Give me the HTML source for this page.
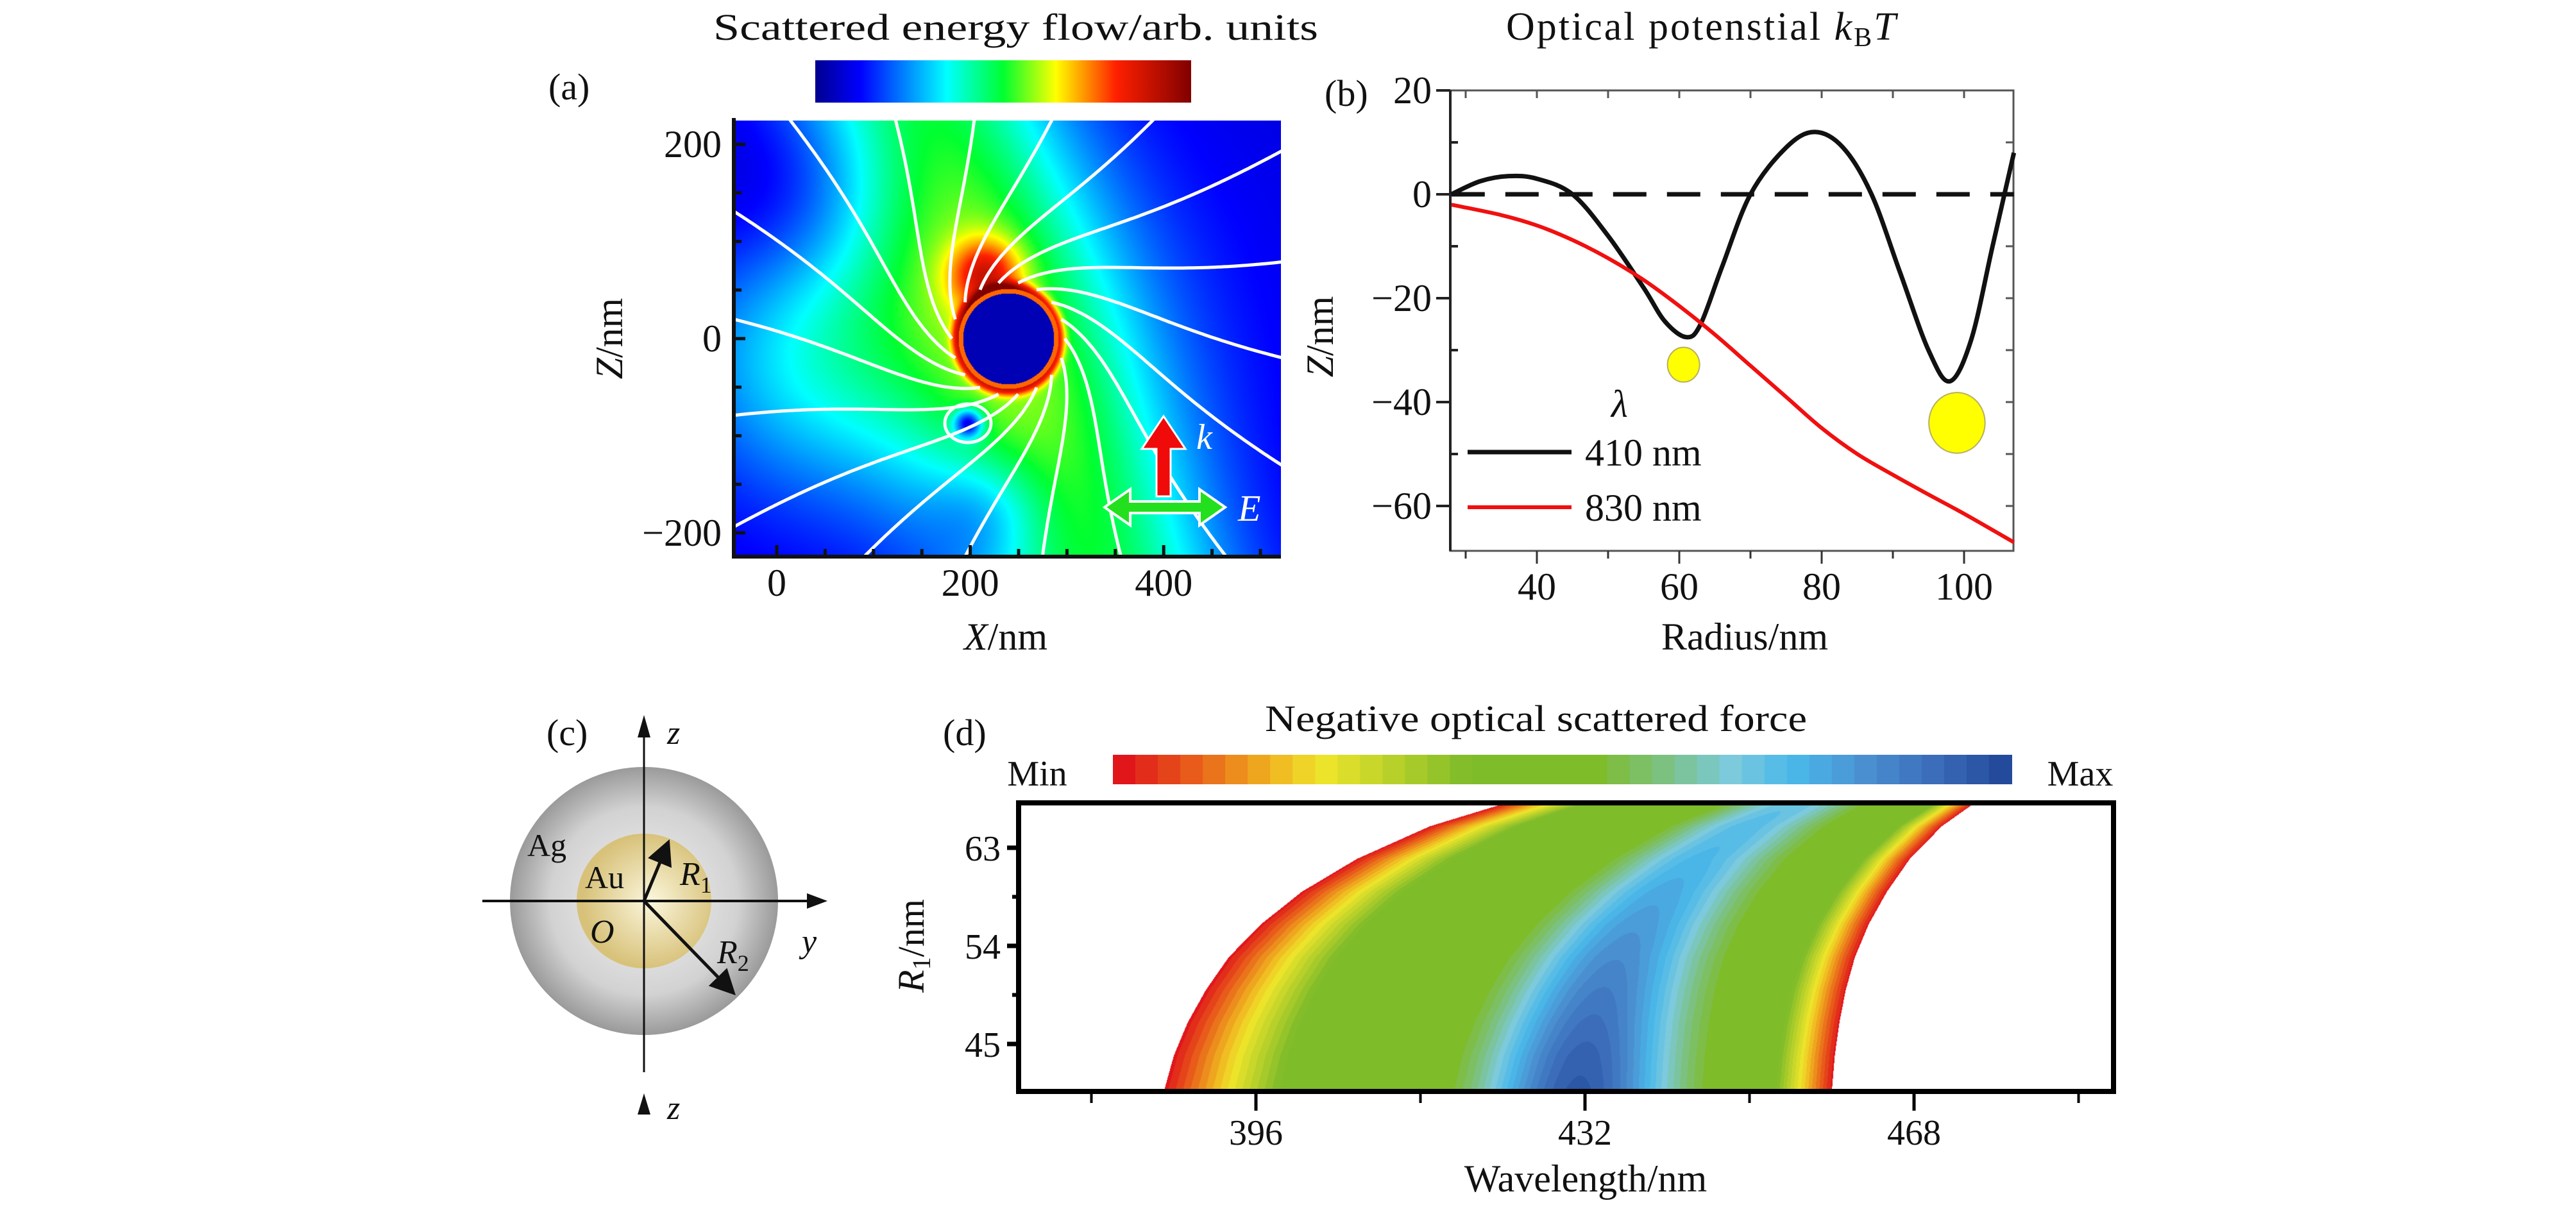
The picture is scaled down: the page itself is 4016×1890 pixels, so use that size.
<!DOCTYPE html>
<html><head><meta charset="utf-8"><title>Optical force figure</title>
<style>
html,body{margin:0;padding:0;background:#fff;}
#wrap{position:relative;width:4016px;height:1890px;overflow:hidden;background:#fff;}
canvas{position:absolute;}
svg{position:absolute;left:0;top:0;}
text{font-family:"Liberation Serif",serif;fill:#111;}
</style></head><body>
<div id="wrap">
<canvas id="fieldA" style="left:1144px;top:188px" width="853" height="680"></canvas>
<canvas id="heatD" style="left:1588px;top:1252px" width="1707" height="450"></canvas>
<svg id="svg" width="4016" height="1890" viewBox="0 0 4016 1890">
<defs>
<linearGradient id="jet" x1="0" x2="1" y1="0" y2="0">
<stop offset="0" stop-color="#00008f"/><stop offset="0.12" stop-color="#0000ff"/><stop offset="0.35" stop-color="#00ffff"/>
<stop offset="0.5" stop-color="#00ff30"/><stop offset="0.64" stop-color="#ffff00"/><stop offset="0.8" stop-color="#ff2000"/><stop offset="1" stop-color="#800000"/>
</linearGradient>
<radialGradient id="shellR" cx="0.5" cy="0.5" r="0.5"><stop offset="0" stop-color="#f4f4f4"/><stop offset="0.7" stop-color="#d2d2d2"/><stop offset="1" stop-color="#9a9a9a"/></radialGradient>
<radialGradient id="coreR" cx="0.55" cy="0.5" r="0.5"><stop offset="0" stop-color="#fbf6dc"/><stop offset="1" stop-color="#d8c27a"/></radialGradient>
<marker id="ah" markerWidth="8" markerHeight="8" refX="6" refY="4" orient="auto" markerUnits="strokeWidth"><path d="M0,0 L8,4 L0,8 z" fill="#111"/></marker>
</defs>
<g id="gA"></g>
<g id="gB"></g>
<g id="gC"></g>
<g id="gD"></g>
</svg>
</div>
<script>
// ---------- data ----------
const radiusB = [28,32,36,40,45,50,55,58,61,63,66,70,75,79,83,87,91,95,98,101,104,107];
const black410 = [0,2.5,3.5,3,0,-8,-18,-24.5,-27.5,-25,-14,0,9,12,9,0,-15,-30,-36,-28,-10,8];
const radiusRed = [28,35,40,45,50,55,60,65,70,75,80,85,90,95,100,107];
const red830 = [-2,-4,-6,-8.8,-12.3,-16.5,-21.5,-27,-33,-39,-45,-50,-54,-57.8,-61.5,-67];
const yTicksB = [20,0,-20,-40,-60];
const xTicksB = [40,60,80,100];
const particlesR = [60.6,99];
const particlesZ = [-32.8,-44];
const particleSize = [1,1.75];
const xTicksA = [0,200,400];
const zTicksA = [200,0,-200];
const rValsD = [41,44,47,50,53,56,59,62,65,67.2];
const leftEdgeD = [386,387,388.5,390.5,393,396.5,401,407,415,423.6];
const rightEdgeD = [459,459.3,459.8,460.5,461.5,463,465,467.5,471,474.7];
const peakAmpD = [0.52,0.5,0.47,0.44,0.41,0.38,0.35,0.32,0.3,0.28];
const xTicksD = [396,432,468];
const xMinorD = [378,414,450,486];
const yTicksD = [63,54,45];

const NS='http://www.w3.org/2000/svg';
function sq(a){return a*a;}
function el(tag,attrs,parent,txt){const e=document.createElementNS(NS,tag);for(const k in attrs)e.setAttribute(k,attrs[k]);if(txt!==undefined)e.textContent=txt;parent.appendChild(e);return e;}
const gA=document.getElementById('gA'),gB=document.getElementById('gB'),gC=document.getElementById('gC'),gD=document.getElementById('gD');

// ---------- Panel A ----------
const axA={x0:1144,x1:1997,y0:188,y1:868};
const sxA=v=>1211+1.508*v, szA=v=>528-1.515*v;
const PCX=1572,PCY=528;
(function(){
 const c=document.getElementById('fieldA'),ctx=c.getContext('2d');
 const W=c.width,H=c.height,img=ctx.createImageData(W,H);
 function jet(v){v=Math.max(0,Math.min(1,v));const st=[[0,0,0,143],[0.12,0,0,255],[0.35,0,255,255],[0.5,0,255,48],[0.64,255,255,0],[0.8,255,32,0],[1,128,0,0]];
  for(let i=1;i<st.length;i++){if(v<=st[i][0]){const a=st[i-1],b=st[i],t=(v-a[0])/(b[0]-a[0]);return [a[1]+(b[1]-a[1])*t,a[2]+(b[2]-a[2])*t,a[3]+(b[3]-a[3])*t];}}return [128,0,0];}
 const cx=PCX-axA.x0,cy=PCY-axA.y0,dn=Math.hypot(250,680),ddx=250/dn,ddy=680/dn;
 for(let y=0;y<H;y++)for(let x=0;x<W;x++){
  const dx=x-cx,dy=y-cy,r=Math.hypot(dx,dy),rr=r/78;
  let v;
  if(rr<0.91)v=0.04;else if(rr<1.0)v=0.75;
  else{
   const p=Math.abs(dx*ddy-dy*ddx);
   v=0.08+0.38*Math.exp(-sq(p/200))+0.1*Math.exp(-sq(r/380));
   v+=0.3*Math.exp(-(sq(dx+36)+sq(dy+100))/(55*55));
   v+=0.3*Math.exp(-sq((rr-1.0)/0.15));
   v+=0.22*Math.exp(-(sq(dx+300)+sq(dy-20))/(220*220));
   v-=0.1*Math.exp(-(sq(dx+330)+sq(dy+220))/(170*170));
   v-=0.4*Math.exp(-(sq(dx+63)+sq(dy-132))/(22*22));
   v-=0.12*Math.exp(-(sq(dx+30)+sq(dy-270))/(90*90));
  }
  const col=jet(v),i=(y*W+x)*4;img.data[i]=col[0];img.data[i+1]=col[1];img.data[i+2]=col[2];img.data[i+3]=255;}
 ctx.putImageData(img,0,0);
})();
(function(){
 const cp=el('clipPath',{id:'clipA'},gA);el('rect',{x:axA.x0,y:axA.y0,width:axA.x1-axA.x0,height:axA.y1-axA.y0},cp);
 const gs=el('g',{'clip-path':'url(#clipA)'},gA);
 for(let k=0;k<18;k++){
  const a=k/18*2*Math.PI;let x=PCX+88*Math.cos(a),y=PCY+88*Math.sin(a);
  let d='M'+x.toFixed(1)+','+y.toFixed(1);
  for(let s=0;s<300;s++){
   const dx=x-PCX,dy=y-PCY,r=Math.hypot(dx,dy);
   const sw=2.2*Math.exp(-r/170);
   const ux=dx/r+sw*(-dy/r),uy=dy/r+sw*(dx/r);
   const n=Math.hypot(ux,uy);x+=5*ux/n;y+=5*uy/n;d+=' L'+x.toFixed(1)+','+y.toFixed(1);
   if(x<axA.x0-20||x>axA.x1+20||y<axA.y0-20||y>axA.y1+20)break;}
  const p=el('path',{d:d,fill:'none',stroke:'#fff','stroke-width':5},gs);
  
  
 }
 const lp=el('ellipse',{cx:PCX-63,cy:PCY+132,rx:36,ry:30,fill:'none',stroke:'#fff','stroke-width':5},gs);
 
 
})();
el('line',{x1:axA.x0,y1:axA.y0-4,x2:axA.x0,y2:axA.y1+3,stroke:'#111','stroke-width':6},gA);
el('line',{x1:axA.x0-3,y1:axA.y1,x2:axA.x1,y2:axA.y1,stroke:'#111','stroke-width':6},gA);
for(let v=-50;v<=500;v+=50){const x=sxA(v);if(x<axA.x0||x>axA.x1)continue;el('line',{x1:x,y1:axA.y1,x2:x,y2:axA.y1-(v%200===0?18:12),stroke:'#111','stroke-width':5},gA);}
for(let v=-200;v<=200;v+=50){el('line',{x1:axA.x0,y1:szA(v),x2:axA.x0+(v%200===0?18:12),y2:szA(v),stroke:'#111','stroke-width':5},gA);}
xTicksA.forEach(v=>{const t=el('text',{x:sxA(v),y:929,'font-size':60,'text-anchor':'middle'},gA,String(v));});
zTicksA.forEach(v=>{const t=el('text',{x:1125,y:szA(v)+20,'font-size':60,'text-anchor':'end'},gA,v<0?'\u2212'+(-v):String(v));});
el('text',{x:1568,y:1013,'font-size':60,'text-anchor':'middle'},gA).innerHTML='<tspan font-style="italic">X</tspan>/nm';
el('text',{x:0,y:0,'font-size':60,'text-anchor':'middle',transform:'translate(970,528) rotate(-90)'},gA).innerHTML='<tspan font-style="italic">Z</tspan>/nm';
el('text',{x:855,y:155,'font-size':58},gA,'(a)');
el('text',{x:1112,y:62,'font-size':58,textLength:943,lengthAdjust:'spacingAndGlyphs'},gA,'Scattered energy flow/arb. units');
el('rect',{x:1271,y:94,width:586,height:66,fill:'url(#jet)'},gA);
el('path',{d:'M1803,774 L1803,700 L1780,700 L1814,649 L1848,700 L1825,700 L1825,774 Z',fill:'#f00a0a',stroke:'#fff','stroke-width':3},gA);
el('path',{d:'M1722,791 L1762,763 L1762,782 L1870,782 L1870,763 L1910,791 L1870,819 L1870,800 L1762,800 L1762,819 Z',fill:'#22e01e',stroke:'#fff','stroke-width':4},gA);
el('text',{x:1865,y:700,'font-size':56,'font-style':'italic',style:'fill:#fff'},gA,'k');
el('text',{x:1930,y:812,'font-size':58,'font-style':'italic',style:'fill:#fff'},gA,'E');

// ---------- Panel B ----------
const axB={x0:2261,x1:3139,y0:141,y1:859};
const sxB=v=>2396+(v-40)*11.1, syB=v=>303-v*8.1;
el('rect',{x:axB.x0,y:axB.y0,width:axB.x1-axB.x0,height:axB.y1-axB.y0,fill:'none',stroke:'#555','stroke-width':3},gB);
el('line',{x1:axB.x0,y1:axB.y0,x2:axB.x0,y2:axB.y1,stroke:'#222','stroke-width':4},gB);
for(let v=20;v>=-60;v-=10){const y=syB(v),maj=v%20===0;
 el('line',{x1:axB.x0-(maj?22:0),y1:y,x2:axB.x0+(maj?0:12),y2:y,stroke:'#222','stroke-width':4},gB);
 el('line',{x1:axB.x1,y1:y,x2:axB.x1-12,y2:y,stroke:'#555','stroke-width':3},gB);}
for(let v=30;v<=100;v+=10){const x=sxB(v),maj=v%20===0;
 el('line',{x1:x,y1:axB.y1,x2:x,y2:axB.y1+(maj?20:12),stroke:'#333','stroke-width':3},gB);
 el('line',{x1:x,y1:axB.y0,x2:x,y2:axB.y0+12,stroke:'#555','stroke-width':3},gB);}
yTicksB.forEach(v=>{const t=el('text',{x:2232,y:syB(v)+20,'font-size':60,'text-anchor':'end'},gB,v<0?'\u2212'+(-v):String(v));});
xTicksB.forEach(v=>{const t=el('text',{x:sxB(v),y:935,'font-size':60,'text-anchor':'middle'},gB,String(v));});
el('text',{x:2065,y:165,'font-size':58},gB,'(b)');
el('text',{x:2720,y:1013,'font-size':60,'text-anchor':'middle'},gB,'Radius/nm');
el('text',{x:0,y:0,'font-size':60,'text-anchor':'middle',transform:'translate(2078,525) rotate(-90)'},gB).innerHTML='<tspan font-style="italic">Z</tspan>/nm';
el('text',{x:2348,y:62,'font-size':62,'letter-spacing':'3'},gB).innerHTML='Optical potenstial <tspan font-style="italic">k</tspan><tspan font-size="42" dy="10">B</tspan><tspan font-style="italic" dy="-10">T</tspan>';
el('line',{x1:sxB(28),y1:syB(0),x2:sxB(107),y2:syB(0),stroke:'#111','stroke-width':7,'stroke-dasharray':'52,32'},gB);
const cpB=el('clipPath',{id:'clipB'},gB);el('rect',{x:axB.x0,y:axB.y0,width:axB.x1-axB.x0+4,height:axB.y1-axB.y0},cpB);
function smoothPath(xs,ys){const P=xs.map((x,i)=>[sxB(x),syB(ys[i])]);let d='M'+P[0][0]+','+P[0][1];
 for(let i=0;i<P.length-1;i++){const p0=P[Math.max(0,i-1)],p1=P[i],p2=P[i+1],p3=P[Math.min(P.length-1,i+2)];
  d+=' C'+(p1[0]+(p2[0]-p0[0])/6)+','+(p1[1]+(p2[1]-p0[1])/6)+' '+(p2[0]-(p3[0]-p1[0])/6)+','+(p2[1]-(p3[1]-p1[1])/6)+' '+p2[0]+','+p2[1];}return d;}
const lb=el('path',{d:smoothPath(radiusB,black410),fill:'none',stroke:'#111','stroke-width':7,'clip-path':'url(#clipB)'},gB);


const lr=el('path',{d:smoothPath(radiusRed,red830),fill:'none',stroke:'#f01010','stroke-width':6,'clip-path':'url(#clipB)'},gB);


particlesR.forEach((r,i)=>{const s=particleSize[i];const p=el('ellipse',{cx:sxB(r),cy:syB(particlesZ[i]),rx:25*s,ry:27*s,fill:'#ffff00',stroke:'#b8b060','stroke-width':2},gB);
 
 });
el('text',{x:2525,y:650,'font-size':60,'font-style':'italic','text-anchor':'middle'},gB,'λ');
el('line',{x1:2288,y1:705,x2:2450,y2:705,stroke:'#111','stroke-width':7},gB);
el('line',{x1:2288,y1:791,x2:2450,y2:791,stroke:'#f01010','stroke-width':6},gB);
el('text',{x:2471,y:726,'font-size':60},gB,'410 nm');
el('text',{x:2471,y:812,'font-size':60},gB,'830 nm');

// ---------- Panel C ----------
el('ellipse',{cx:1004,cy:1405,rx:209,ry:209,fill:'url(#shellR)'},gC);
el('ellipse',{cx:1004,cy:1405,rx:105,ry:105,fill:'url(#coreR)'},gC);
el('line',{x1:1004,y1:1672,x2:1004,y2:1140,stroke:'#111','stroke-width':3},gC);
el('path',{d:'M1004,1115 L994,1150 L1014,1150 Z',fill:'#111'},gC);
el('line',{x1:752,y1:1405,x2:1268,y2:1405,stroke:'#111','stroke-width':4},gC);
el('path',{d:'M1290,1405 L1258,1393 L1258,1417 Z',fill:'#111'},gC);
el('path',{d:'M1004,1705 L994,1738 L1014,1738 Z',fill:'#111'},gC);
el('line',{x1:1004,y1:1405,x2:1040,y2:1318,stroke:'#111','stroke-width':5,'marker-end':'url(#ah)'},gC);
el('line',{x1:1004,y1:1405,x2:1140,y2:1545,stroke:'#111','stroke-width':5,'marker-end':'url(#ah)'},gC);
el('text',{x:1040,y:1160,'font-size':52,'font-style':'italic'},gC,'z');
el('text',{x:1040,y:1745,'font-size':52,'font-style':'italic'},gC,'z');
el('text',{x:822,y:1335,'font-size':50},gC,'Ag');
el('text',{x:912,y:1385,'font-size':50},gC,'Au');
el('text',{x:1060,y:1380,'font-size':52,'font-style':'italic'},gC).innerHTML='R<tspan font-size="36" font-style="normal" dy="12">1</tspan>';
el('text',{x:1118,y:1502,'font-size':52,'font-style':'italic'},gC).innerHTML='R<tspan font-size="36" font-style="normal" dy="12">2</tspan>';
el('text',{x:920,y:1470,'font-size':52,'font-style':'italic'},gC,'O');
el('text',{x:1250,y:1485,'font-size':52,'font-style':'italic'},gC,'y');
el('text',{x:852,y:1162,'font-size':58},gC,'(c)');

// ---------- Panel D ----------
const axD={x0:1588,x1:3295,y0:1252,y1:1702};
const sxD=v=>1958+(v-396)*14.25, syD=v=>1475-(v-54)*17.0;
const cmapD=[[0,224,22,27],[0.08,232,96,26],[0.16,240,176,32],[0.22,239,229,42],[0.3,184,208,42],[0.38,127,188,42],[0.55,127,188,42],[0.62,124,192,122],[0.7,124,202,220],[0.77,74,184,234],[0.85,74,144,208],[0.93,58,107,184],[1,36,74,156]];
function colD(v){v=Math.max(0,Math.min(1,v));v=Math.round(v*40)/40;for(let i=1;i<cmapD.length;i++){if(v<=cmapD[i][0]){const a=cmapD[i-1],b=cmapD[i],t=(v-a[0])/(b[0]-a[0]);return [a[1]+(b[1]-a[1])*t,a[2]+(b[2]-a[2])*t,a[3]+(b[3]-a[3])*t];}}return [36,74,156];}
function interp(arr,r){if(r<=rValsD[0])return arr[0];for(let i=1;i<rValsD.length;i++){if(r<=rValsD[i]){const t=(r-rValsD[i-1])/(rValsD[i]-rValsD[i-1]);return arr[i-1]+(arr[i]-arr[i-1])*t;}}return arr[arr.length-1];}
(function(){
 const c=document.getElementById('heatD'),ctx=c.getContext('2d'),W=c.width,H=c.height,img=ctx.createImageData(W,H);
 for(let y=0;y<H;y++){const r=54-((y+axD.y0)-1475)/17.0;
  const L=interp(leftEdgeD,r),R=interp(rightEdgeD,r),A=interp(peakAmpD,r);
  for(let x=0;x<W;x++){const lam=396+((x+axD.x0)-1958)/14.25,i=(y*W+x)*4;
   if(lam<L||lam>R||r>rValsD[rValsD.length-1]){img.data[i]=255;img.data[i+1]=255;img.data[i+2]=255;img.data[i+3]=255;continue;}
   const t=(lam-L)/(R-L);const s=Math.min(1,t/0.2,(1-t)/0.1);
   const v=0.45*s+A*Math.exp(-sq((t-0.62)/0.15));
   const cl=colD(v);img.data[i]=cl[0];img.data[i+1]=cl[1];img.data[i+2]=cl[2];img.data[i+3]=255;}}
 ctx.putImageData(img,0,0);
})();
el('rect',{x:axD.x0,y:axD.y0,width:axD.x1-axD.x0,height:axD.y1-axD.y0,fill:'none',stroke:'#000','stroke-width':8},gD);
xTicksD.forEach(v=>{el('line',{x1:sxD(v),y1:axD.y1,x2:sxD(v),y2:axD.y1+30,stroke:'#000','stroke-width':5},gD);
 const t=el('text',{x:sxD(v),y:1785,'font-size':56,'text-anchor':'middle'},gD,String(v));});
xMinorD.forEach(v=>{el('line',{x1:sxD(v),y1:axD.y1,x2:sxD(v),y2:axD.y1+18,stroke:'#000','stroke-width':4},gD);});
yTicksD.forEach(v=>{el('line',{x1:axD.x0,y1:syD(v),x2:axD.x0-18,y2:syD(v),stroke:'#000','stroke-width':7},gD);
 const t=el('text',{x:1560,y:syD(v)+20,'font-size':56,'text-anchor':'end'},gD,String(v));});
el('line',{x1:axD.x0,y1:syD(58.5),x2:axD.x0-10,y2:syD(58.5),stroke:'#000','stroke-width':6},gD);
el('line',{x1:axD.x0,y1:syD(49.5),x2:axD.x0-10,y2:syD(49.5),stroke:'#000','stroke-width':6},gD);
el('text',{x:2472,y:1858,'font-size':60,'text-anchor':'middle'},gD,'Wavelength/nm');
el('text',{x:0,y:0,'font-size':58,'text-anchor':'middle',transform:'translate(1440,1475) rotate(-90)'},gD).innerHTML='<tspan font-style="italic">R</tspan><tspan font-size="40" dy="10">1</tspan><tspan dy="-10">/nm</tspan>';
el('text',{x:1972,y:1140,'font-size':58,textLength:845,lengthAdjust:'spacingAndGlyphs'},gD,'Negative optical scattered force');
el('text',{x:1617,y:1225,'font-size':56,'text-anchor':'middle'},gD,'Min');
el('text',{x:3243,y:1225,'font-size':56,'text-anchor':'middle'},gD,'Max');
el('text',{x:1470,y:1162,'font-size':58},gD,'(d)');
for(let k=0;k<40;k++){const v=k/39,cl=colD(v);el('rect',{x:1735+k*35.025,y:1177,width:36,height:46,fill:'rgb('+cl.map(Math.round).join(',')+')'},gD);}
</script>
</body></html>
